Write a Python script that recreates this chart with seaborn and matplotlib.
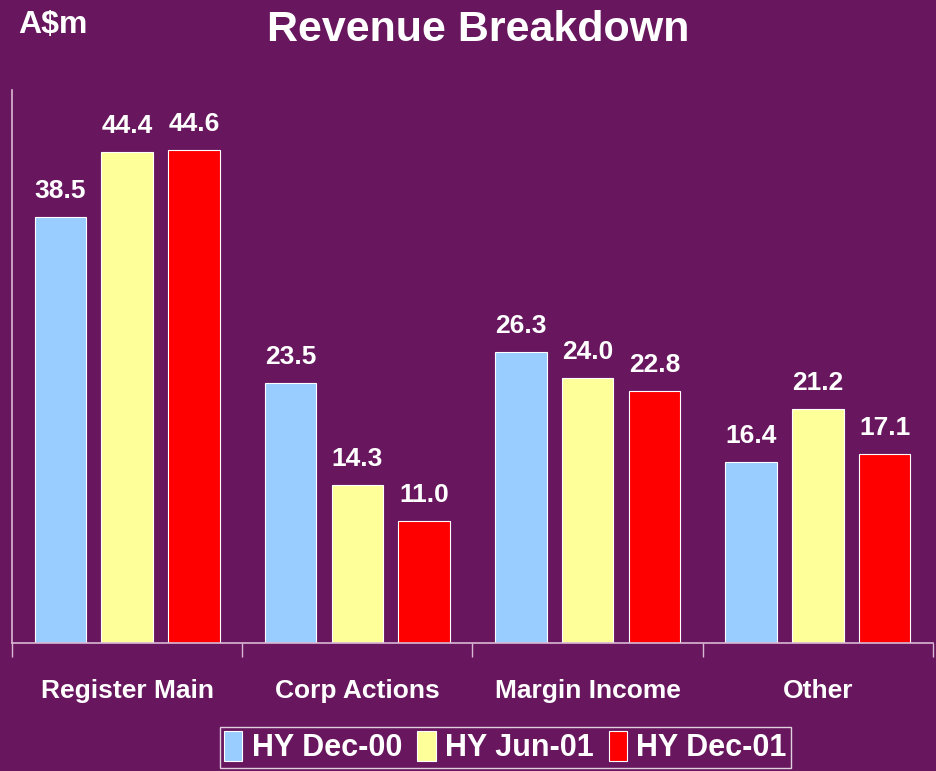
import matplotlib
matplotlib.use("Agg")
import matplotlib.pyplot as plt
import seaborn as sns
import pandas as pd

# chart data
categories = ['Register Main', 'Corp Actions', 'Margin Income', 'Other']
periods = ['HY Dec-00', 'HY Jun-01', 'HY Dec-01']
hy_dec00 = [38.5, 23.5, 26.3, 16.4]
hy_jun01 = [44.4, 14.3, 24.0, 21.2]
hy_dec01 = [44.6, 11.0, 22.8, 17.1]

bg = '#68175E'
bar_colors = ['#99CCFF', '#FFFF99', '#FF0000']
axis_col = '#D9B8D6'

# long table for seaborn
rows = []
for p, vals in zip(periods, [hy_dec00, hy_jun01, hy_dec01]):
    for c, v in zip(categories, vals):
        rows.append({'Category': c, 'Period': p, 'Value': v})
df = pd.DataFrame(rows)

sns.set_style('white')
plt.rcParams['font.family'] = ['Liberation Sans', 'DejaVu Sans']
plt.rcParams['font.weight'] = 'bold'

fig = plt.figure(figsize=(9.36, 7.71), dpi=100, facecolor=bg)
ax = fig.add_axes([12 / 936, 128 / 771, 921 / 936, 553 / 771])
ax.set_facecolor(bg)

sns.barplot(data=df, x='Category', y='Value', hue='Period', order=categories,
            hue_order=periods, palette=bar_colors, saturation=1, width=0.87, gap=0.23,
            edgecolor='white', linewidth=0.8, ax=ax, legend=False)

# value labels on top of bars
for cont in ax.containers:
    ax.bar_label(cont, fmt='%.1f', padding=10, color='white',
                 fontsize=19, fontweight='bold')

ax.set_ylim(0, 50)
ax.set_xlim(-0.5, 3.5)
ax.set_yticks([])
ax.set_xlabel('')
ax.set_ylabel('')

# separators between categories, labels centred
ax.set_xticks([-0.5, 0.5, 1.5, 2.5, 3.5])
ax.set_xticklabels([])
ax.tick_params(axis='x', which='major', bottom=True, length=10, width=1,
               color=axis_col, direction='out')
ax.set_xticks(range(len(categories)), minor=True)
ax.set_xticklabels(categories, minor=True, color='white', fontsize=19, fontweight='bold')
ax.tick_params(axis='x', which='minor', bottom=True, length=0, pad=26)

for side in ['top', 'right']:
    ax.spines[side].set_visible(False)
for side in ['left', 'bottom']:
    ax.spines[side].set_color(axis_col)
    ax.spines[side].set_linewidth(1.2)

# titles
fig.text(0.511, 0.961, 'Revenue Breakdown', ha='center', va='center',
         color='white', fontsize=31, fontweight='bold')
fig.text(0.019, 0.968, 'A$m', ha='left', va='center',
         color='white', fontsize=23, fontweight='bold')

# legend
handles = [plt.Rectangle((0, 0), 1, 1, facecolor=c, edgecolor='white', linewidth=0.8)
           for c in bar_colors]
leg = fig.legend(handles, periods, loc='lower center', bbox_to_anchor=(0.540, 0.0),
                 ncol=3, frameon=True, fontsize=22, handlelength=0.6, handleheight=1.1,
                 handletextpad=0.3, columnspacing=0.5, borderpad=0.15,
                 borderaxespad=0.1, fancybox=False)
leg.get_frame().set_facecolor(bg)
leg.get_frame().set_edgecolor('white')
for t in leg.get_texts():
    t.set_color('white')
    t.set_fontweight('bold')

fig.savefig('out.png', dpi=100, facecolor=bg)
